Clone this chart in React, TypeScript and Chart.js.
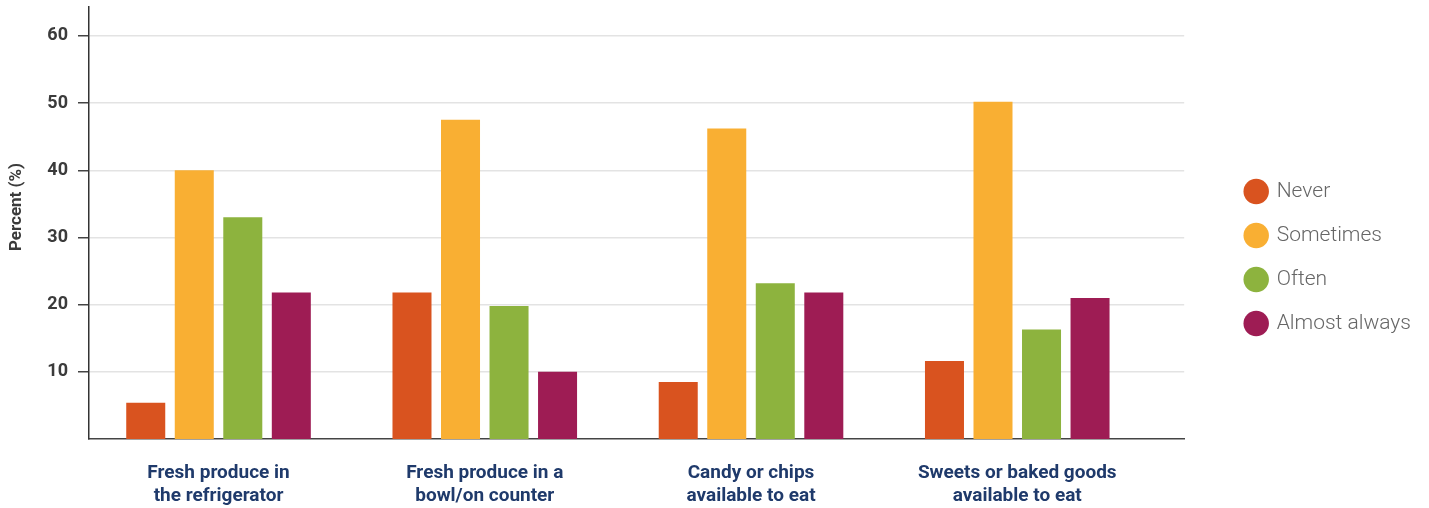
import React, { useEffect, useRef } from 'react';
import { Chart, registerables } from 'chart.js';

Chart.register(...registerables);

// Category labels (two lines each)
const categories: string[][] = [
  ['Fresh produce in', 'the refrigerator'],
  ['Fresh produce in a', 'bowl/on counter'],
  ['Candy or chips', 'available to eat'],
  ['Sweets or baked goods', 'available to eat'],
];

// Percent of respondents per frequency
const never = [5.4, 21.8, 8.5, 11.6];
const sometimes = [40.0, 47.5, 46.2, 50.2];
const often = [33.0, 19.8, 23.2, 16.3];
const almostAlways = [21.8, 10.0, 21.8, 21.0];

const seriesNames = ['Never', 'Sometimes', 'Often', 'Almost always'];
const seriesColors = ['#D9531F', '#F9AF33', '#8DB33E', '#9E1C54'];
const yTicks = [10, 20, 30, 40, 50, 60];

const FONT = 'Roboto, "Noto Sans", sans-serif';

// Rotated y-axis title
const yTitlePlugin = {
  id: 'yTitle',
  afterDraw(chart: any) {
    const { ctx } = chart;
    ctx.save();
    ctx.font = 'bold 17px Roboto';
    ctx.fillStyle = '#3b3b3b';
    ctx.textAlign = 'center';
    ctx.textBaseline = 'middle';
    ctx.translate(17, 207);
    ctx.rotate(-Math.PI / 2);
    ctx.fillText('Percent (%)', 0, 0);
    ctx.restore();
  },
};

export default function App() {
  const canvasRef = useRef<HTMLCanvasElement | null>(null);

  useEffect(() => {
    if (!canvasRef.current) return;
    const values = [never, sometimes, often, almostAlways];
    const chart = new Chart(canvasRef.current, {
      type: 'bar',
      data: {
        datasets: values.map((vals, s) => ({
          label: seriesNames[s],
          data: vals.map((v, i) => ({ x: i, y: v })),
          backgroundColor: seriesColors[s],
          borderWidth: 0,
          categoryPercentage: 0.729,
          barPercentage: 0.804,
        })),
      },
      options: {
        animation: false,
        responsive: true,
        maintainAspectRatio: false,
        layout: { padding: { top: 7, right: 8, bottom: 0, left: 0 } },
        plugins: {
          tooltip: { enabled: false },
          legend: {
            position: 'right',
            labels: {
              usePointStyle: true,
              pointStyle: 'circle',
              boxWidth: 20,
              boxHeight: 18,
              padding: 23,
              color: '#666666',
              font: { family: FONT, size: 21, weight: '300' },
            },
          },
        },
        scales: {
          x: {
            type: 'linear',
            min: -0.4865,
            max: 3.627,
            offset: false,
            grid: { display: false, drawTicks: false },
            border: { display: true, color: '#444444', width: 1.5 },
            afterBuildTicks: (scale: any) => {
              scale.ticks = categories.map((_, i) => ({ value: i }));
            },
            afterFit: (scale: any) => {
              scale.height = 69;
              scale.paddingLeft = 0;
              scale.paddingRight = 0;
            },
            ticks: {
              autoSkip: false,
              maxRotation: 0,
              padding: 23,
              color: '#1f3a6b',
              font: { family: FONT, size: 19, weight: 'bold', lineHeight: 1.21 },
              callback: (v: any) => categories[v] ?? '',
            },
          },
          y: {
            type: 'linear',
            min: 0,
            max: 64.3,
            grid: {
              color: '#e3e3e3',
              lineWidth: 1.5,
              tickColor: '#444444',
              tickLength: 11,
              tickWidth: 1.5,
            },
            border: { display: true, color: '#333333', width: 1.5 },
            afterBuildTicks: (scale: any) => {
              scale.ticks = yTicks.map((v) => ({ value: v }));
            },
            afterFit: (scale: any) => {
              scale.width = 89;
              scale.paddingTop = 0;
              scale.paddingBottom = 0;
            },
            ticks: {
              padding: 10,
              color: '#3b3b3b',
              font: { family: FONT, size: 18, weight: 'bold' },
            },
          },
          spacer: {
            type: 'linear',
            position: 'right',
            display: true,
            grid: { display: false, drawTicks: false },
            border: { display: false },
            ticks: { display: false },
            afterFit: (scale: any) => {
              scale.width = 39;
              scale.paddingTop = 0;
              scale.paddingBottom = 0;
            },
          },
        },
      } as any,
      plugins: [yTitlePlugin],
    });
    return () => chart.destroy();
  }, []);

  return (
    <div style={{ position: 'absolute', left: 0, top: 0, width: 1429, height: 508, background: '#ffffff' }}>
      <canvas ref={canvasRef} />
    </div>
  );
}
